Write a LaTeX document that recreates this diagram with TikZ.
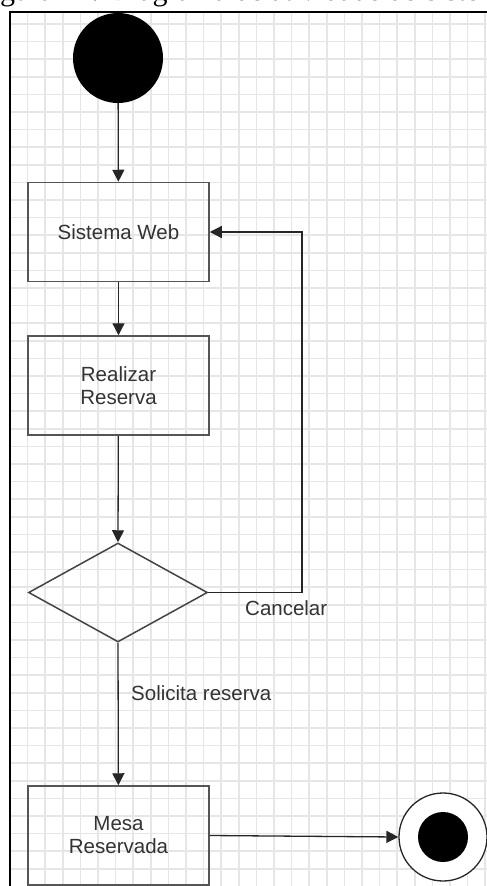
\documentclass[tikz,border=0pt]{standalone}
\usepackage{fontspec}
\setmainfont{Liberation Sans}
\newfontfamily\capfont{Liberation Serif}
\usetikzlibrary{arrows.meta,shapes.geometric}
\definecolor{gridc}{HTML}{E6E6E6}
\definecolor{boxc}{HTML}{555555}
\definecolor{txtc}{HTML}{333333}
\tikzset{
  actbox/.style={draw=boxc,line width=1.5pt,minimum width=181pt,minimum height=99pt,inner sep=0pt,align=center,text=txtc,font=\fontsize{20.5}{23}\selectfont},
  decbox/.style={draw=boxc!80!black,line width=1.5pt,diamond,minimum width=179pt,minimum height=99pt,inner sep=0pt},
  flow/.style={line width=1.3pt,draw=black!85,-{Triangle[length=12pt,width=12pt]}},
  lbl/.style={text=txtc,font=\fontsize{20.5}{23}\selectfont,inner sep=0pt,anchor=west}
}
\begin{document}
\begin{tikzpicture}[x=1pt,y=-1pt]
\useasboundingbox (0,0) rectangle (487,886);
\begin{scope}
\clip (0,0) rectangle (487,886);
\fill[white] (0,0) rectangle (487,886);
\node[anchor=base west,inner sep=0pt,font=\capfont\fontsize{30}{34}\selectfont] (cap) at (-25,1) {Figura 24: Diagrama de atividade do sistema};
\begin{scope}
\clip (10,12) rectangle (487,886);
\foreach \i in {0,...,26} \draw[gridc,line width=1.5pt] (27.6+\i*17.6,12) -- (27.6+\i*17.6,886);
\foreach \i in {0,...,49} \draw[gridc,line width=1.5pt] (10,24+\i*17.6) -- (487,24+\i*17.6);
\end{scope}
\draw[black,line width=2pt] (10,886) -- (10,12) -- (487,12);

\node[circle,fill=black,minimum size=90pt,inner sep=0pt] (start) at (118,58) {};
\node[actbox] (sw) at (118.5,232) {Sistema Web};
\node[actbox] (rr) at (118.5,385.5) {Realizar\\Reserva};
\node[decbox] (dia) at (118,592.5) {};
\node[actbox] (mr) at (118.5,835.5) {Mesa\\Reservada};
\node[circle,draw=black!85,line width=1.3pt,fill=white,minimum size=88pt,inner sep=0pt] (end) at (443,837) {};
\node[circle,fill=black,minimum size=50pt,inner sep=0pt] (endin) at (end.center) {};
\coordinate (loop) at (302,592.5);

\draw[flow] (start) -- (sw);
\draw[flow] (sw) -- (rr);
\draw[flow] (rr) -- (dia.north);
\draw[flow] (dia.east) -- (loop) |- (sw.east);
\draw[flow] (dia.south) -- (mr);
\draw[flow] (mr.east) -- (end.west);

\node[lbl] (lcan) at (245,608) {Cancelar};
\node[lbl] (lsol) at (131,693) {Solicita reserva};
\end{scope}
\end{tikzpicture}
\end{document}
